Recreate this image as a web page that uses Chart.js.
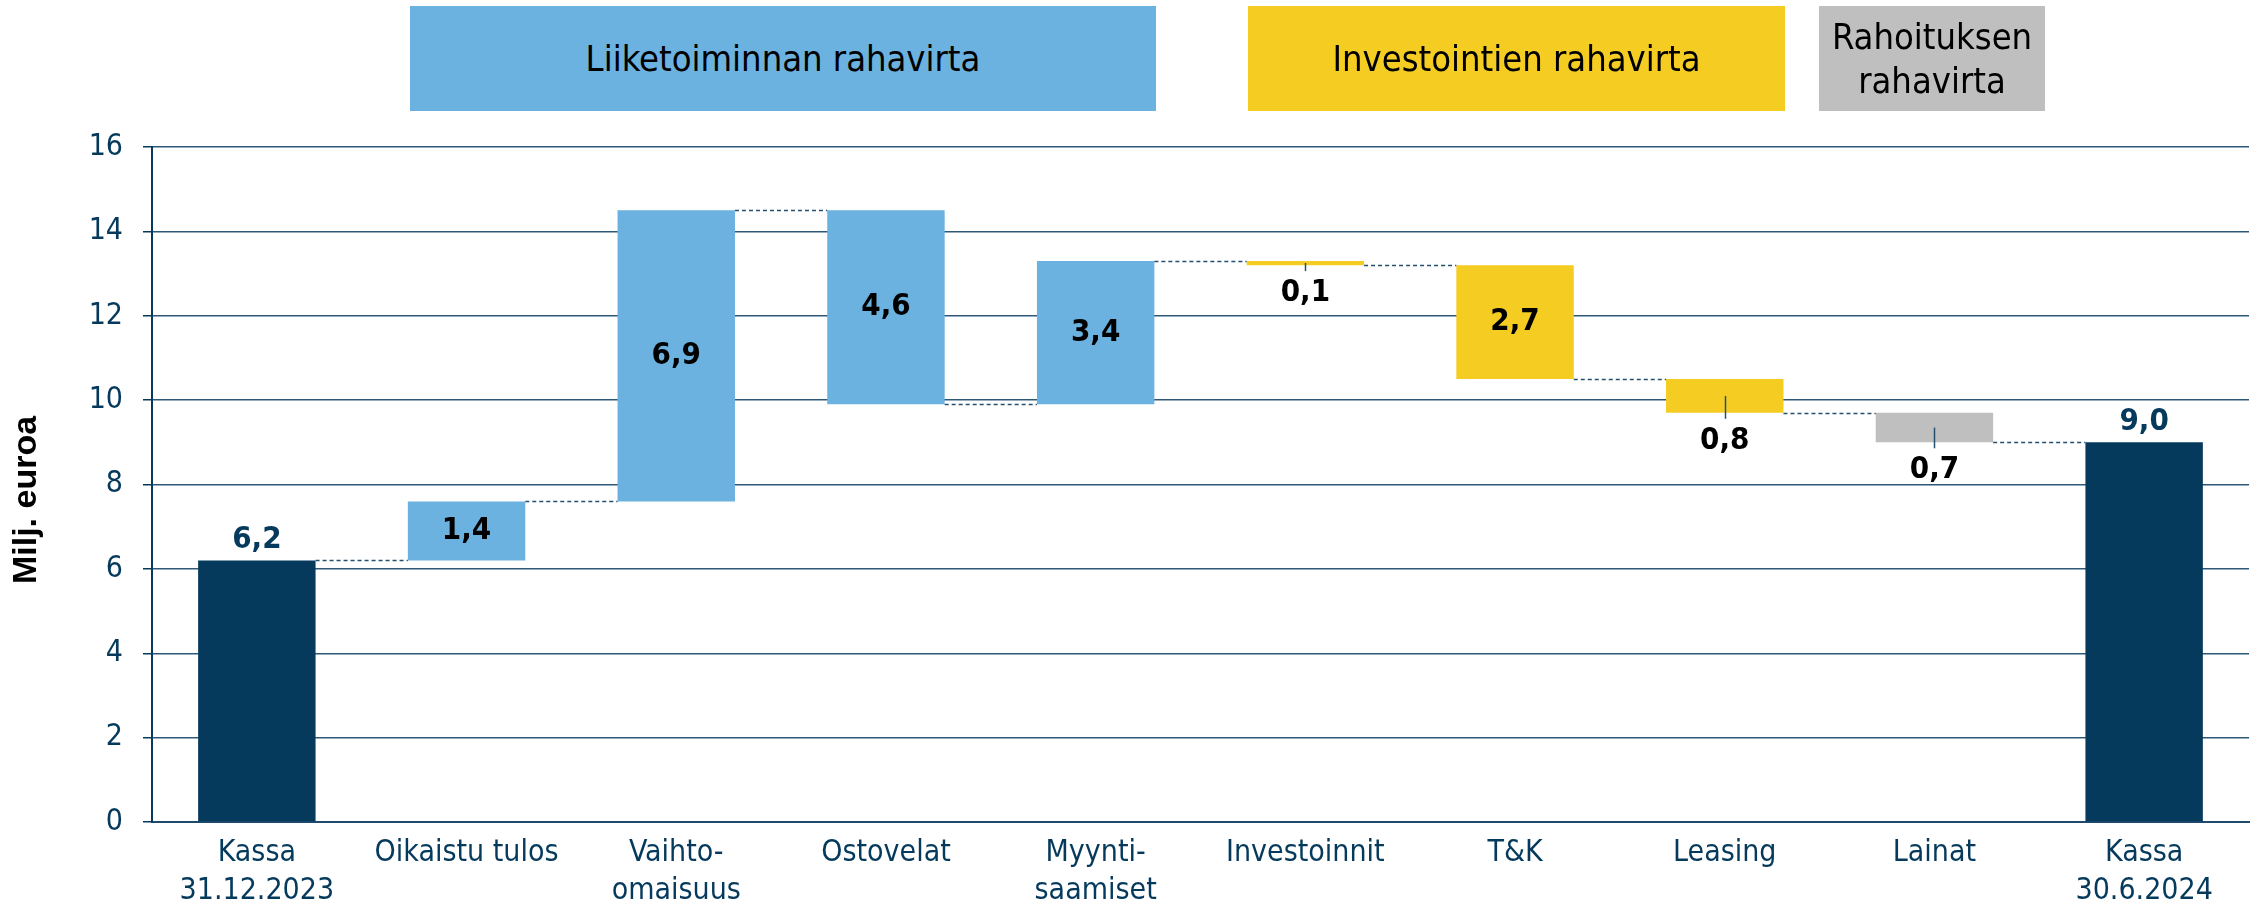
<!DOCTYPE html>
<html>
<head>
<meta charset="utf-8">
<script src="https://cdn.jsdelivr.net/npm/chart.js@4.4.1/dist/chart.umd.min.js"></script>
<style>
    html, body { margin: 0; padding: 0; background: #fff; }
    #wrap { position: relative; width: 2265px; height: 908px; }
    #kaavio { position: absolute; left: 0; top: 0; }
    .lohko {
        position: absolute; top: 6px; height: 105px;
        display: flex; align-items: center; justify-content: center; text-align: center;
        font-family: "DejaVu Sans Condensed", "DejaVu Sans", sans-serif;
        font-size: 36px; line-height: 1.2; color: #000;
    }
</style>
</head>
<body>
<div id="wrap">
    <canvas id="kaavio" width="2265" height="908"></canvas>
    <div class="lohko" style="left:410px; width:746px; background:#6CB2E0;">Liiketoiminnan rahavirta</div>
    <div class="lohko" style="left:1248px; width:537px; background:#F5CD22;">Investointien rahavirta</div>
    <div class="lohko" style="left:1819px; width:226px; background:#BFBFBF;">Rahoituksen<br>rahavirta</div>
</div>
<script>
var kategoriat = [['Kassa', '31.12.2023'], 'Oikaistu tulos', ['Vaihto-', 'omaisuus'], 'Ostovelat',
    ['Myynti-', 'saamiset'], 'Investoinnit', 'T&K', 'Leasing', 'Lainat', ['Kassa', '30.6.2024']];
var kassaAlku = 6.2;
var muutokset = [1.4, 6.9, -4.6, 3.4, -0.1, -2.7, -0.8, -0.7];
var kassaLoppu = 9.0;
var yTicks = [0, 2, 4, 6, 8, 10, 12, 14, 16];
var yOtsikko = 'Milj. euroa';

var varit = ['#053A5C', '#6CB2E0', '#6CB2E0', '#6CB2E0', '#6CB2E0',
    '#F5CD22', '#F5CD22', '#F5CD22', '#BFBFBF', '#053A5C'];
// missä arvo näytetään: yla = palkin yläpuolella, keski = palkin sisällä, ala = alle viivan kanssa
var sijainnit = ['yla', 'keski', 'keski', 'keski', 'keski', 'ala', 'keski', 'ala', 'ala', 'yla'];

var fontti = '"DejaVu Sans Condensed", "DejaVu Sans", sans-serif';

// kelluvat palkit [alku, loppu]
var palkit = [[0, kassaAlku]];
var arvot = [kassaAlku];
var taso = kassaAlku;
muutokset.forEach(function (m) {
    var uusi = Math.round((taso + m) * 10) / 10;
    palkit.push([taso, uusi]);
    arvot.push(Math.abs(m));
    taso = uusi;
});
palkit.push([0, kassaLoppu]);
arvot.push(kassaLoppu);

var vesiputous = {
    id: 'vesiputous',
    afterDatasetsDraw: function (chart) {
        var ctx = chart.ctx;
        var meta = chart.getDatasetMeta(0);
        var y = chart.scales.y;
        ctx.save();

        // katkoviivat palkista seuraavaan
        ctx.setLineDash([4, 3]);
        ctx.strokeStyle = '#24506F';
        ctx.lineWidth = 1.6;
        for (var i = 0; i < meta.data.length - 1; i++) {
            var a = meta.data[i], b = meta.data[i + 1];
            var py = Math.round(y.getPixelForValue(palkit[i][1])) + 0.5;
            ctx.beginPath();
            ctx.moveTo(a.x + a.width / 2, py);
            ctx.lineTo(b.x - b.width / 2, py);
            ctx.stroke();
        }
        ctx.setLineDash([]);

        ctx.textAlign = 'center';
        ctx.font = 'bold 31px ' + fontti;
        meta.data.forEach(function (bar, i) {
            var yla = Math.min(bar.y, bar.base), ala = Math.max(bar.y, bar.base);
            var teksti = arvot[i].toFixed(1).replace('.', ',');
            if (sijainnit[i] === 'yla') {
                ctx.fillStyle = '#053A5C';
                ctx.textBaseline = 'alphabetic';
                ctx.fillText(teksti, bar.x, yla - 12);
            } else if (sijainnit[i] === 'keski') {
                ctx.fillStyle = '#000';
                ctx.textBaseline = 'middle';
                ctx.fillText(teksti, bar.x, (yla + ala) / 2);
            } else {
                ctx.strokeStyle = '#24506F';
                ctx.lineWidth = 1.5;
                ctx.beginPath();
                ctx.moveTo(Math.round(bar.x) + 0.5, (yla + ala) / 2);
                ctx.lineTo(Math.round(bar.x) + 0.5, ala + 6);
                ctx.stroke();
                ctx.fillStyle = '#000';
                ctx.textBaseline = 'middle';
                ctx.fillText(teksti, bar.x, ala + 28);
            }
        });

        // y-akselin otsikko
        ctx.translate(27, 500);
        ctx.rotate(-Math.PI / 2);
        ctx.font = 'bold 34px "Liberation Sans", Arial, sans-serif';
        ctx.fillStyle = '#000';
        ctx.textBaseline = 'middle';
        ctx.fillText(yOtsikko, 0, 0);
        ctx.restore();
    }
};

new Chart(document.getElementById('kaavio'), {
    type: 'bar',
    data: {
        labels: kategoriat,
        datasets: [{
            data: palkit,
            backgroundColor: varit,
            borderWidth: 0,
            barPercentage: 0.56,
            categoryPercentage: 1
        }]
    },
    options: {
        responsive: false,
        animation: false,
        layout: { padding: { top: 147, right: 16, left: 0, bottom: 0 } },
        plugins: {
            legend: { display: false },
            tooltip: { enabled: false }
        },
        scales: {
            x: {
                grid: { display: false, drawTicks: false },
                border: { display: true, color: '#1F4A6B', width: 2 },
                ticks: {
                    color: '#053A5C',
                    font: { family: fontti, size: 30, lineHeight: 1.24 },
                    padding: 13,
                    maxRotation: 0,
                    autoSkip: false
                },
                afterFit: function (s) { s.height = 86; }
            },
            y: {
                min: 0,
                max: 16,
                afterBuildTicks: function (s) {
                    s.ticks = yTicks.map(function (v) { return { value: v }; });
                },
                grid: { color: '#2E5878', lineWidth: 1.5, tickLength: 9, tickColor: '#053A5C' },
                border: { color: '#053A5C', width: 2 },
                ticks: {
                    color: '#053A5C',
                    font: { family: fontti, size: 30 },
                    padding: 20
                },
                afterFit: function (s) { s.width = 152; }
            }
        }
    },
    plugins: [vesiputous]
});
</script>
</body>
</html>
